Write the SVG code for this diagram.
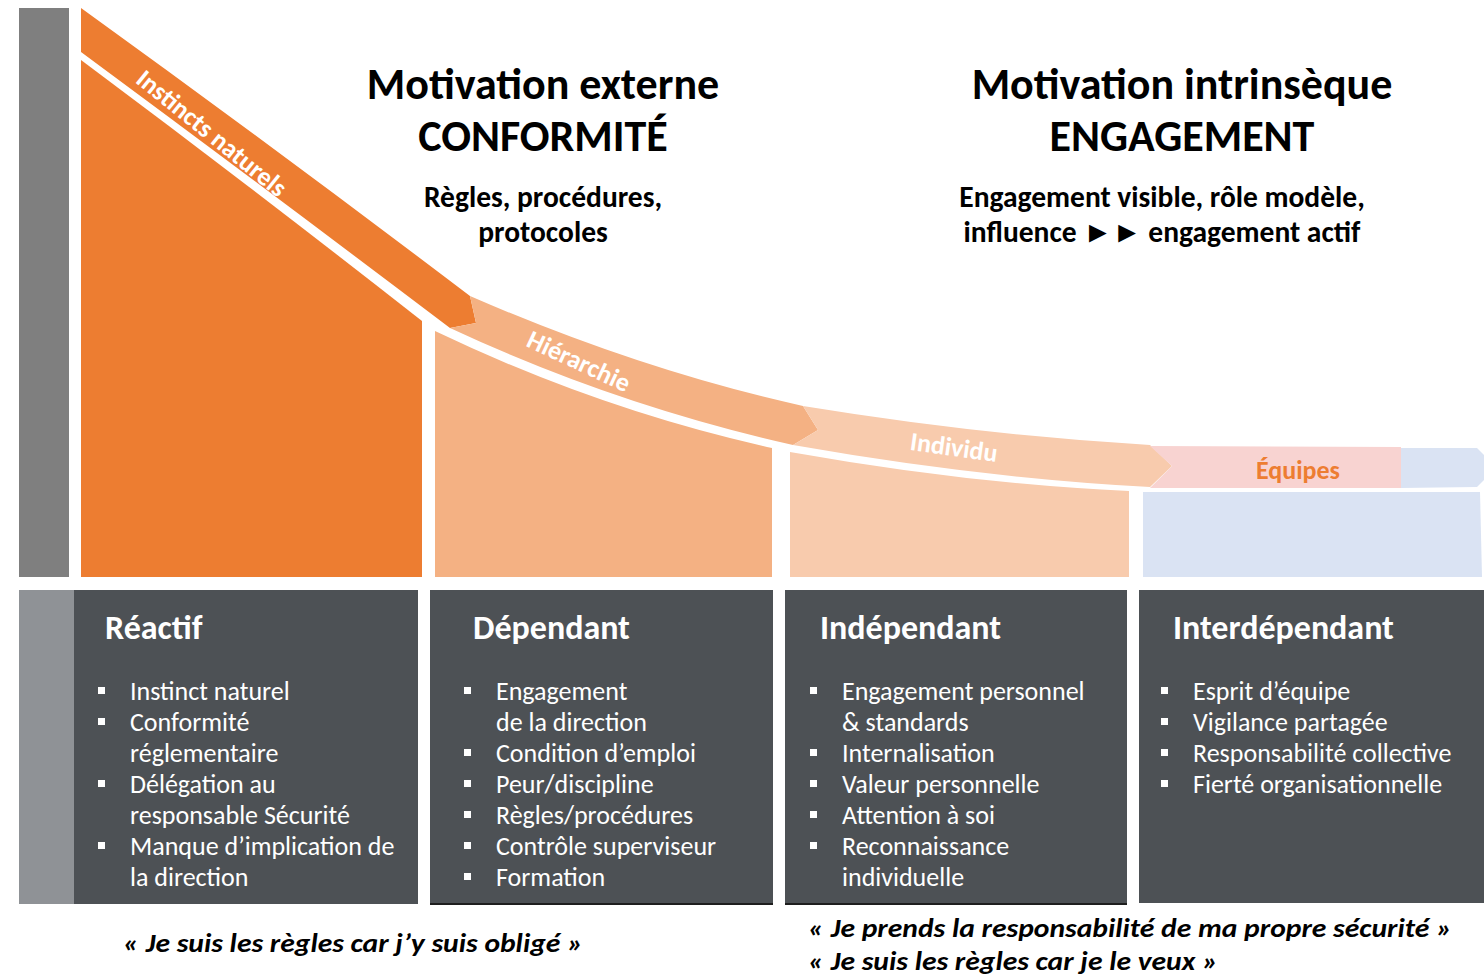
<svg xmlns="http://www.w3.org/2000/svg" width="1484" height="977" viewBox="0 0 1484 977">
<style>
text{font-family:Carlito,Lato,"Liberation Sans",sans-serif}
.h1{font-size:44px;font-weight:700;fill:#000;text-anchor:middle}
.h2{font-size:29.5px;font-weight:700;fill:#000;text-anchor:middle}
.band{font-size:26px;font-weight:600;fill:#fff;text-anchor:middle}
.box{fill:#4d5155}
.ttl{font-size:34px;font-weight:700;fill:#fff}
.li{font-size:26px;fill:#fff}
.q{font-size:27px;font-weight:700;font-style:italic;fill:#000}
.sq{fill:#fff}
</style>
<rect width="1484" height="977" fill="#fff"/>
<g id="axis"><rect x="19" y="8" width="50" height="569" fill="#7f7f7f"/></g>
<g id="areas">
<path id="area-reactif" fill="#ed7d31" d="M81,60 Q250,186 422,321 L422,577 L81,577 Z"/>
<path id="area-dependant" fill="#f4b183" d="M435,331 Q600,410 772,448 L772,577 L435,577 Z"/>
<path id="area-independant" fill="#f8cbad" d="M790,452 Q970,484 1129,491 L1129,577 L790,577 Z"/>
<polygon id="area-interdependant" fill="#dae3f3" points="1143,492 1480,492 1482,577 1143,577"/>
</g>
<g id="connectors">
<path id="band-instincts" fill="#ed7d31" d="M81,8 Q275,148 470,296 L476,323 L450,328 Q265,188 81,52 Z"/>
<path id="band-hierarchie" fill="#f4b183" d="M470,296 Q640,370 803,406 L818,430 L793,445 Q615,405 450,328 L476,323 Z"/>
<path id="band-individu" fill="#f8cbad" d="M803,406 Q980,435 1150,445 L1172,466 L1150,487 Q980,478 793,445 L818,430 Z"/>
<polygon id="band-equipes" fill="#f8d3d1" points="1150,446 1401,447 1401,488 1150,488 1172,466"/>
<polygon id="band-end" fill="#dae3f3" points="1401,448 1477,448 1484,455 1484,480 1477,487 1401,488"/>
</g>
<g id="band-labels">
<text class="band" transform="translate(212,133) rotate(39)" y="9">Instincts naturels</text>
<text class="band" transform="translate(579,361) rotate(25)" y="9">Hiérarchie</text>
<text class="band" transform="translate(954,447) rotate(8)" y="9">Individu</text>
<text class="band" x="1298" y="479" style="fill:#ed7d31;font-weight:700">Équipes</text>
</g>
<g id="heading-externe">
<text class="h1" x="543" y="99">Motivation externe</text>
<text class="h1" x="543" y="151">CONFORMITÉ</text>
<text class="h2" x="543" y="207">Règles, procédures,</text>
<text class="h2" x="543" y="242">protocoles</text>
</g>
<g id="heading-intrinseque">
<text class="h1" x="1182" y="99">Motivation intrinsèque</text>
<text class="h1" x="1182" y="151">ENGAGEMENT</text>
<text class="h2" x="1162" y="207">Engagement visible, rôle modèle,</text>
<text class="h2" x="1162" y="242">influence ►► engagement actif</text>
</g>
<g id="node-reactif">
<rect class="box" x="19" y="590" width="399" height="314"/>
<rect x="19" y="590" width="55" height="314" fill="#8f9296"/>
<text class="ttl" x="105" y="639">Réactif</text>
<rect class="sq" x="98" y="687" width="7" height="7"/>
<rect class="sq" x="98" y="718" width="7" height="7"/>
<rect class="sq" x="98" y="780" width="7" height="7"/>
<rect class="sq" x="98" y="842" width="7" height="7"/>
<text class="li" x="130" y="700">Instinct naturel</text>
<text class="li" x="130" y="731">Conformité</text>
<text class="li" x="130" y="762">réglementaire</text>
<text class="li" x="130" y="793">Délégation au</text>
<text class="li" x="130" y="824">responsable Sécurité</text>
<text class="li" x="130" y="855">Manque d’implication de</text>
<text class="li" x="130" y="886">la direction</text>
</g>
<g id="node-dependant">
<rect class="box" x="430" y="590" width="343" height="315"/>
<rect x="430" y="903" width="343" height="2" fill="#1e1e1e"/>
<text class="ttl" x="473" y="639">Dépendant</text>
<rect class="sq" x="464" y="687" width="7" height="7"/>
<rect class="sq" x="464" y="749" width="7" height="7"/>
<rect class="sq" x="464" y="780" width="7" height="7"/>
<rect class="sq" x="464" y="811" width="7" height="7"/>
<rect class="sq" x="464" y="842" width="7" height="7"/>
<rect class="sq" x="464" y="873" width="7" height="7"/>
<text class="li" x="496" y="700">Engagement</text>
<text class="li" x="496" y="731">de la direction</text>
<text class="li" x="496" y="762">Condition d’emploi</text>
<text class="li" x="496" y="793">Peur/discipline</text>
<text class="li" x="496" y="824">Règles/procédures</text>
<text class="li" x="496" y="855">Contrôle superviseur</text>
<text class="li" x="496" y="886">Formation</text>
</g>
<g id="node-independant">
<rect class="box" x="785" y="590" width="342" height="315"/>
<rect x="785" y="903" width="342" height="2" fill="#1e1e1e"/>
<text class="ttl" x="820" y="639">Indépendant</text>
<rect class="sq" x="810" y="687" width="7" height="7"/>
<rect class="sq" x="810" y="749" width="7" height="7"/>
<rect class="sq" x="810" y="780" width="7" height="7"/>
<rect class="sq" x="810" y="811" width="7" height="7"/>
<rect class="sq" x="810" y="842" width="7" height="7"/>
<text class="li" x="842" y="700">Engagement personnel</text>
<text class="li" x="842" y="731">&amp; standards</text>
<text class="li" x="842" y="762">Internalisation</text>
<text class="li" x="842" y="793">Valeur personnelle</text>
<text class="li" x="842" y="824">Attention à soi</text>
<text class="li" x="842" y="855">Reconnaissance</text>
<text class="li" x="842" y="886">individuelle</text>
</g>
<g id="node-interdependant">
<rect class="box" x="1139" y="590" width="345" height="313"/>
<text class="ttl" x="1173" y="639">Interdépendant</text>
<rect class="sq" x="1161" y="687" width="7" height="7"/>
<rect class="sq" x="1161" y="718" width="7" height="7"/>
<rect class="sq" x="1161" y="749" width="7" height="7"/>
<rect class="sq" x="1161" y="780" width="7" height="7"/>
<text class="li" x="1193" y="700">Esprit d’équipe</text>
<text class="li" x="1193" y="731">Vigilance partagée</text>
<text class="li" x="1193" y="762">Responsabilité collective</text>
<text class="li" x="1193" y="793">Fierté organisationnelle</text>
</g>
<g id="quotes">
<text class="q" x="123" y="952" textLength="460" lengthAdjust="spacingAndGlyphs">« Je suis les règles car j’y suis obligé »</text>
<text class="q" x="808" y="937" textLength="644" lengthAdjust="spacingAndGlyphs">« Je prends la responsabilité de ma propre sécurité »</text>
<text class="q" x="808" y="970" textLength="410" lengthAdjust="spacingAndGlyphs">« Je suis les règles car je le veux »</text>
</g>
</svg>
